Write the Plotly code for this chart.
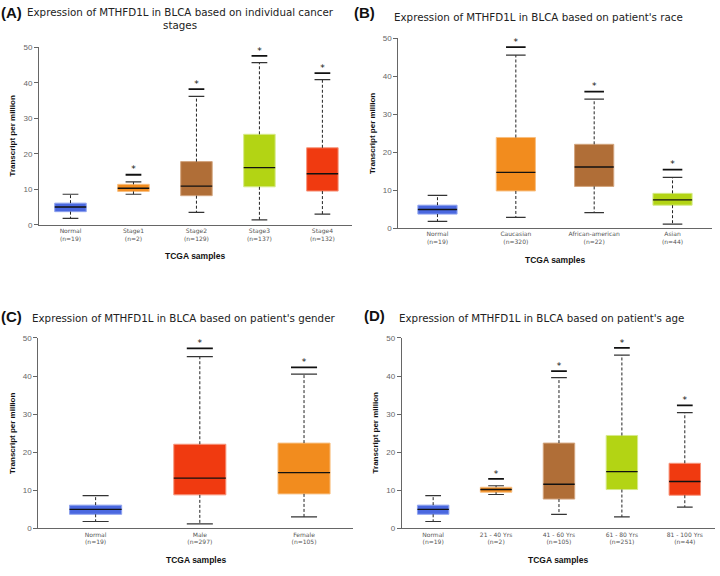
import plotly.graph_objects as go

# ---------------- data ----------------
# Panel A: cancer stages
a_cats = ["Normal", "Stage1", "Stage2", "Stage3", "Stage4"]
a_n = [19, 2, 129, 137, 132]
a_lo = [1.8, 8.6, 3.5, 1.4, 3.0]
a_q1 = [3.7, 9.4, 8.2, 10.7, 9.5]
a_med = [5.0, 10.3, 10.9, 16.1, 14.4]
a_q3 = [6.1, 11.4, 17.8, 25.5, 21.7]
a_hi = [8.6, 12.1, 36.2, 45.7, 40.9]
a_sig = [None, 14.1, 38.2, 47.6, 42.7]

# Panel B: race
b_cats = ["Normal", "Caucasian", "African-american", "Asian"]
b_n = [19, 320, 22, 44]
b_lo = [1.8, 2.85, 4.07, 1.04]
b_q1 = [3.7, 9.8, 11.0, 6.05]
b_med = [4.9, 14.7, 16.1, 7.44]
b_q3 = [6.05, 23.9, 22.1, 9.17]
b_hi = [8.65, 45.6, 34.0, 13.4]
b_sig = [None, 47.7, 36.0, 15.4]

# Panel C: gender
c_cats = ["Normal", "Male", "Female"]
c_n = [19, 297, 105]
c_lo = [1.8, 1.2, 3.0]
c_q1 = [3.7, 8.8, 9.05]
c_med = [5.0, 13.2, 14.65]
c_q3 = [6.1, 22.1, 22.4]
c_hi = [8.6, 45.1, 40.5]
c_sig = [None, 47.3, 42.3]

# Panel D: age
d_cats = ["Normal", "21 - 40 Yrs", "41 - 60 Yrs", "61 - 80 Yrs", "81 - 100 Yrs"]
d_n = [19, 2, 105, 251, 44]
d_lo = [1.8, 8.9, 3.7, 3.0, 5.6]
d_q1 = [3.7, 9.5, 7.7, 10.2, 8.7]
d_med = [5.0, 10.2, 11.6, 14.9, 12.3]
d_q3 = [6.1, 10.8, 22.4, 24.4, 17.1]
d_hi = [8.6, 11.2, 39.6, 45.5, 30.4]
d_sig = [None, 13.0, 41.3, 47.4, 32.3]

y_ticks = [0, 10, 20, 30, 40, 50]

# ---------------- styles ----------------
BLUE, ORANGE, BROWN, LIME, RED = "#4a68e0", "#f28c1e", "#b06e37", "#b3d414", "#f03a10"
BORDER = {BLUE: "#8ea2ee", ORANGE: "#f8bf80", BROWN: "#d3a57e", LIME: "#d6ea8a", RED: "#f7967d"}

panels = [
    dict(cats=a_cats, n=a_n, lo=a_lo, q1=a_q1, med=a_med, q3=a_q3, hi=a_hi, sig=a_sig,
         colors=[BLUE, ORANGE, BROWN, LIME, RED],
         xd=[39/720, 352/720], yd=[1-224.3/576, 1-44/576], xr=[-0.5, 4.47]),
    dict(cats=b_cats, n=b_n, lo=b_lo, q1=b_q1, med=b_med, q3=b_q3, hi=b_hi, sig=b_sig,
         colors=[BLUE, ORANGE, BROWN, LIME],
         xd=[398.3/720, 711.7/720], yd=[1-227.7/576, 1-35/576], xr=[-0.5, 3.5]),
    dict(cats=c_cats, n=c_n, lo=c_lo, q1=c_q1, med=c_med, q3=c_q3, hi=c_hi, sig=c_sig,
         colors=[BLUE, RED, ORANGE],
         xd=[38.3/720, 353/720], yd=[1-532.7/576, 1-339.3/576], xr=[-0.55, 2.47]),
    dict(cats=d_cats, n=d_n, lo=d_lo, q1=d_q1, med=d_med, q3=d_q3, hi=d_hi, sig=d_sig,
         colors=[BLUE, ORANGE, BROWN, LIME, RED],
         xd=[401.7/720, 715/720], yd=[1-532.7/576, 1-339.3/576], xr=[-0.5, 4.48]),
]

BOXW = 0.5
CAPW = 0.25

fig = go.Figure()
layout_axes = {}

for k, p in enumerate(panels):
    sfx = "" if k == 0 else str(k + 1)
    xa, ya = "x" + sfx, "y" + sfx
    idx = list(range(len(p["cats"])))

    # boxes
    fig.add_trace(go.Bar(
        x=idx, base=p["q1"], y=[h - l for h, l in zip(p["q3"], p["q1"])],
        width=BOXW, xaxis=xa, yaxis=ya, showlegend=False, hoverinfo="skip",
        marker=dict(color=p["colors"], line=dict(color=[BORDER[c] for c in p["colors"]], width=1)),
    ))

    # whiskers (dashed)
    wx, wy = [], []
    for i in idx:
        wx += [i, i, None, i, i, None]
        wy += [p["q3"][i], p["hi"][i], None, p["q1"][i], p["lo"][i], None]
    fig.add_trace(go.Scatter(x=wx, y=wy, mode="lines", xaxis=xa, yaxis=ya, showlegend=False,
                             hoverinfo="skip", line=dict(color="#222", width=1, dash="3px,2px")))

    # caps
    cx, cy = [], []
    for i in idx:
        cx += [i - CAPW/2, i + CAPW/2, None, i - CAPW/2, i + CAPW/2, None]
        cy += [p["hi"][i], p["hi"][i], None, p["lo"][i], p["lo"][i], None]
    fig.add_trace(go.Scatter(x=cx, y=cy, mode="lines", xaxis=xa, yaxis=ya, showlegend=False,
                             hoverinfo="skip", line=dict(color="#333", width=1.2)))

    # medians
    mx, my = [], []
    for i in idx:
        mx += [i - BOXW/2, i + BOXW/2, None]
        my += [p["med"][i], p["med"][i], None]
    fig.add_trace(go.Scatter(x=mx, y=my, mode="lines", xaxis=xa, yaxis=ya, showlegend=False,
                             hoverinfo="skip", line=dict(color="#111", width=1.4)))

    # significance bars + stars
    sx, sy, tx, ty = [], [], [], []
    for i in idx:
        s = p["sig"][i]
        if s is None:
            continue
        sx += [i - CAPW/2, i + CAPW/2, None]
        sy += [s, s, None]
        tx.append(i)
        ty.append(s)
    fig.add_trace(go.Scatter(x=sx, y=sy, mode="lines", xaxis=xa, yaxis=ya, showlegend=False,
                             hoverinfo="skip", line=dict(color="#111", width=1.8)))
    fig.add_trace(go.Scatter(x=tx, y=ty, mode="text", text=["*"] * len(tx), textposition="top center",
                             xaxis=xa, yaxis=ya, showlegend=False, hoverinfo="skip", cliponaxis=False,
                             textfont=dict(family="DejaVu Sans", size=9, color="#111")))

    ticktext = [f"{c}<br>(n={n})" for c, n in zip(p["cats"], p["n"])]
    layout_axes["xaxis" + sfx] = dict(
        domain=p["xd"], range=p["xr"], anchor=ya, tickvals=idx, ticktext=ticktext,
        showline=True, linecolor="#666", linewidth=1, ticks="", showgrid=False, zeroline=False,
        tickfont=dict(family="DejaVu Sans", size=6, color="#555"), fixedrange=True,
    )
    layout_axes["yaxis" + sfx] = dict(
        domain=p["yd"], range=[0, 50], anchor=xa, tickvals=y_ticks,
        showline=True, linecolor="#666", linewidth=1, ticks="outside", ticklen=4, tickcolor="#666",
        showgrid=False, zeroline=False,
        tickfont=dict(family="Liberation Sans", size=8, color="#666"), fixedrange=True,
    )

titles = [
    ("Expression of MTHFD1L in BLCA based on individual cancer<br>stages", 180, 15),
    ("Expression of MTHFD1L in BLCA based on patient's race", 538, 13),
    ("Expression of MTHFD1L in BLCA based on patient's gender", 183, 318.5),
    ("Expression of MTHFD1L in BLCA based on patient's age", 541.7, 318.5),
]
labels = [("(A)", 0, 9), ("(B)", 353, 9), ("(C)", 0, 317.5), ("(D)", 363, 316.5)]

ann = []
for t, x, y in titles:
    ann.append(dict(text=t, x=x/720, y=1-y/576, xref="paper", yref="paper", xanchor="center",
                    yanchor="middle", showarrow=False,
                    font=dict(family="DejaVu Sans", size=10.3, color="#222")))
for t, x, y in labels:
    ann.append(dict(text=f"<b>{t}</b>", x=x/720, y=1-y/576, xref="paper", yref="paper",
                    xanchor="left", yanchor="middle", showarrow=False, borderpad=0,
                    font=dict(family="Liberation Sans", size=15, color="#111")))
for p in panels:
    xc = (p["xd"][0] + p["xd"][1]) / 2
    yc = (p["yd"][0] + p["yd"][1]) / 2
    ann.append(dict(text="<b>TCGA samples</b>", x=xc, y=p["yd"][0] - 32/576, xref="paper", yref="paper",
                    xanchor="center", yanchor="middle", showarrow=False,
                    font=dict(family="Liberation Sans", size=8.5, color="#111")))
    ann.append(dict(text="<b>Transcript per million</b>", x=p["xd"][0] - 26.5/720, y=yc, xref="paper",
                    yref="paper", xanchor="center", yanchor="middle", textangle=-90, showarrow=False,
                    font=dict(family="Liberation Sans", size=8, color="#111")))

fig.update_layout(
    width=720, height=576, margin=dict(l=0, r=0, t=0, b=0),
    paper_bgcolor="white", plot_bgcolor="white", barmode="overlay",
    annotations=ann, **layout_axes,
)

fig.write_html("out.html", config={"displayModeBar": False},
               post_script="document.body.style.margin='0';document.body.style.overflow='hidden';")
